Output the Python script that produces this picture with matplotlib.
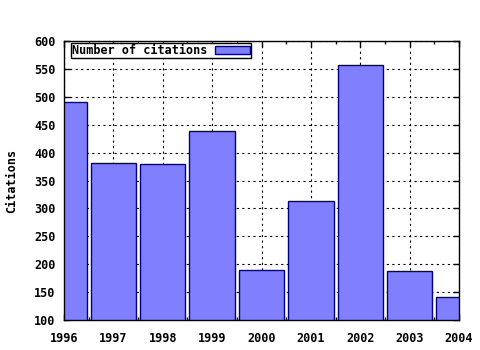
import matplotlib
matplotlib.use("Agg")
import matplotlib.pyplot as plt
from matplotlib.ticker import MultipleLocator

years = [1996, 1997, 1998, 1999, 2000, 2001, 2002, 2003, 2004]
citations = [491, 381, 380, 439, 190, 313, 557, 188, 141]
series_label = "Number of citations"
y_label = "Citations"

plt.rcParams['font.family'] = ['DejaVu Sans Mono']
plt.rcParams['font.weight'] = 'bold'

fig = plt.figure(figsize=(4.8, 3.5), dpi=100)
ax = fig.add_axes([64/480, 30/350, 395/480, 279/350])
ax.bar(years, citations, width=0.92, bottom=0, color='#8080ff', edgecolor='#000080', linewidth=1, label=series_label, zorder=2)
ax.set_xlim(1996, 2004)
ax.set_ylim(100, 600)
ax.set_xticks(years)
ax.xaxis.set_minor_locator(MultipleLocator(0.5))
ax.yaxis.set_major_locator(MultipleLocator(50))
ax.grid(True, which='major', linestyle=(0, (2, 3)), color='black', linewidth=0.8, zorder=1)
ax.tick_params(which='both', direction='in', top=True, right=True, labelsize=8.5, colors='black', width=1)
ax.tick_params(which='major', length=4)
ax.tick_params(axis='x', which='major', pad=9)
ax.tick_params(axis='y', which='major', pad=6)
ax.tick_params(which='minor', length=2)
for lbl in ax.get_xticklabels() + ax.get_yticklabels():
    lbl.set_fontweight('bold')
ax.set_ylabel(y_label, fontsize=8.5, fontweight='bold', labelpad=12)
for s in ax.spines.values():
    s.set_linewidth(1)
leg = ax.legend(loc='upper left', bbox_to_anchor=(7/395, 1 - 2/279), borderaxespad=0,
                markerfirst=False, fancybox=False, framealpha=1, edgecolor='black',
                prop={'size': 8.5, 'weight': 'bold'}, borderpad=0.1, handlelength=3.0, handleheight=0.55,
                handletextpad=0.6)
leg.get_frame().set_linewidth(1)
fig.savefig("out.png", dpi=100)
